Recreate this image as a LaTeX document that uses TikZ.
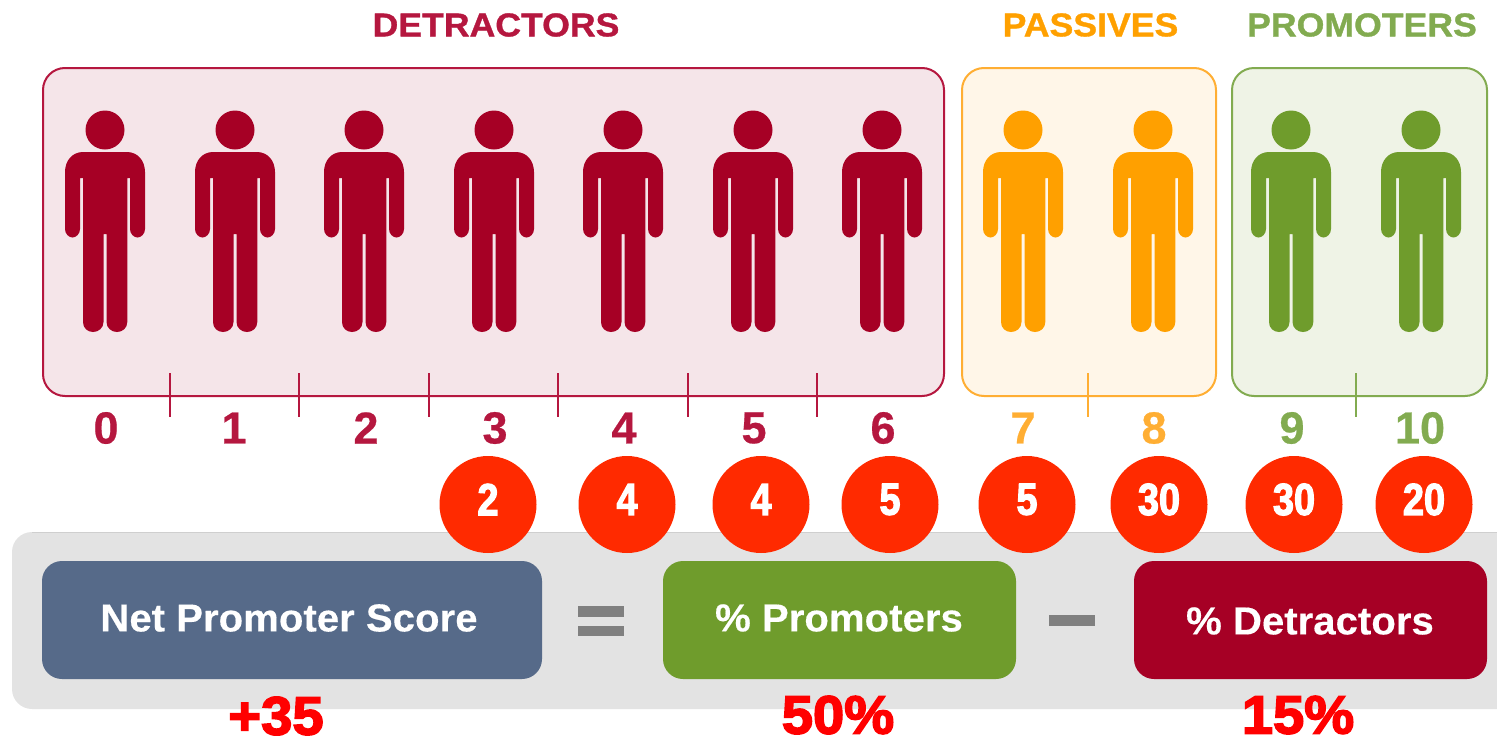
\documentclass[tikz,border=0pt]{standalone}
\usepackage{fontspec}
\setmainfont{Liberation Sans}
\newfontfamily\titlefont[FakeStretch=1.08,FakeBold=1]{Liberation Sans Bold}
\newfontfamily\boxfont[FakeStretch=1.03,FakeBold=0.3]{Liberation Sans Bold}
\newfontfamily\scalefont[FakeStretch=1.0,FakeBold=0.5]{Liberation Sans Bold}
\newfontfamily\badgefont[FakeStretch=0.84,FakeBold=2.5]{Liberation Sans Bold}
\newfontfamily\resultfont[FakeStretch=1.04,FakeBold=3]{Liberation Sans Bold}
\definecolor{detr}{HTML}{A60025}
\definecolor{detrline}{HTML}{B5173F}
\definecolor{detrfill}{HTML}{F5E5E9}
\definecolor{pass}{HTML}{FFA000}
\definecolor{passline}{HTML}{FFAE33}
\definecolor{passfill}{HTML}{FFF6E8}
\definecolor{prom}{HTML}{6F9C2C}
\definecolor{promline}{HTML}{82AB50}
\definecolor{promfill}{HTML}{EFF3E6}
\definecolor{nps}{HTML}{566A89}
\definecolor{band}{HTML}{E3E3E3}
\definecolor{bandedge}{HTML}{CFCFCF}
\definecolor{sign}{HTML}{808080}
\definecolor{badge}{HTML}{FF2A00}
\definecolor{result}{HTML}{FF0000}
\tikzset{
  x=1pt,y=-1pt,
  groupbox/.style={rectangle,rounded corners=22pt,line width=2pt,inner sep=0pt,minimum height=328pt},
  formulabox/.style={rectangle,rounded corners=20pt,inner sep=0pt,minimum height=118pt},
  title/.style={inner sep=0pt,font=\titlefont\fontsize{33}{33}\selectfont},
  scalenum/.style={inner sep=0pt,font=\scalefont\fontsize{45}{45}\selectfont},
  boxlabel/.style={inner sep=0pt,text=white,font=\boxfont\fontsize{39}{39}\selectfont},
  badgedisc/.style={circle,fill=badge,inner sep=0pt,minimum size=97pt},
  badgenum/.style={inner sep=0pt,text=white,font=\badgefont\fontsize{45}{45}\selectfont},
  resultnum/.style={inner sep=0pt,text=result,font=\resultfont\fontsize{54}{54}\selectfont},
  tick/.style={line width=1.6pt},
  person/.pic={
    \fill (0,130) circle[radius=19.5];
    \fill (-22,152) -- (22,152) .. controls (33,152) and (40,161) .. (40,172)
      -- (40,229) .. controls (40,234) and (36,237.5) .. (32.5,237.5)
      .. controls (29,237.5) and (25,234) .. (25,229)
      -- (25,178) -- (22.3,178) -- (22.3,322)
      .. controls (22.3,328) and (17.5,332) .. (12,332)
      .. controls (6.5,332) and (1.5,328) .. (1.5,322)
      -- (1.5,234) -- (-1.5,234) -- (-1.5,322)
      .. controls (-1.5,328) and (-6.5,332) .. (-12,332)
      .. controls (-17.5,332) and (-22,328) .. (-22,322)
      -- (-22,178) -- (-25,178) -- (-25,229)
      .. controls (-25,234) and (-29,237.5) .. (-32.5,237.5)
      .. controls (-36,237.5) and (-40,234) .. (-40,229)
      -- (-40,172) .. controls (-40,161) and (-33,152) .. (-22,152) -- cycle;
  }
}
\begin{document}
\begin{tikzpicture}
\useasboundingbox (0,0) rectangle (1497,739);
% titles
\node[title,text=detrline] (tdetr) at (496,25) {DETRACTORS};
\node[title,text=pass] (tpass) at (1090.5,25) {PASSIVES};
\node[title,text=promline] (tprom) at (1362,25) {PROMOTERS};
% group boxes
\node[groupbox,draw=detrline,fill=detrfill,minimum width=901pt] (gdetr) at (493.5,232) {};
\node[groupbox,draw=passline,fill=passfill,minimum width=254pt] (gpass) at (1089,232) {};
\node[groupbox,draw=promline,fill=promfill,minimum width=255pt] (gprom) at (1359.5,232) {};
\foreach \x in {170,299,429,558,688,817}
  \draw[tick,detrline] (\x,373) -- (\x,417);
\draw[tick,passline] (1088,373) -- (1088,417);
\draw[tick,promline] (1356,373) -- (1356,417);
% people
\foreach \x in {105,235,364,494,623,753,882}
  \pic[detr] at (\x,0) {person};
\foreach \x in {1023,1153}
  \pic[pass] at (\x,0) {person};
\foreach \x in {1291,1421}
  \pic[prom] at (\x,0) {person};
% scale
\foreach \n/\x in {0/106,1/234,2/366,3/495,4/624,5/754,6/883}
  \node[scalenum,text=detrline] (s\n) at (\x,428) {\n};
\foreach \n/\x in {7/1023,8/1154}
  \node[scalenum,text=passline] (s\n) at (\x,428) {\n};
\foreach \n/\x in {9/1292,10/1420}
  \node[scalenum,text=promline] (s\n) at (\x,428) {\n};
% band
\fill[band] (1497,532) [rounded corners=20pt] -- (12,532) -- (12,709) [sharp corners] -- (1497,709) -- cycle;
\draw[bandedge,line width=1.6pt] (32,532.5) -- (1497,532.5);
% formula
\node[formulabox,fill=nps,minimum width=500pt] (bnps) at (292,620) {};
\node[formulabox,fill=prom,minimum width=353pt] (bprom) at (839.5,620) {};
\node[formulabox,fill=detr,minimum width=353pt] (bdetr) at (1310.5,620) {};
\node[boxlabel] (lnps) at (289,618) {Net Promoter Score};
\node[boxlabel] (lprom) at (839,618) {\% Promoters};
\node[boxlabel] (ldetr) at (1310,621) {\% Detractors};
\fill[sign] (578,606) rectangle (624,617);
\fill[sign] (578,626) rectangle (624,636);
\fill[sign] (1049,615) rectangle (1095,626);
% badges
\foreach \v/\x [count=\i] in {2/488,4/627,4/761,5/890,5/1027,30/1159,30/1294,20/1424}{
  \node[badgedisc] (d\i) at (\x,504.5) {};
  \node[badgenum] (n\i) at (\x,499.5) {\v};
}
% results
\node[resultnum] (r1) at (276,716) {+35};
\node[resultnum] (r2) at (838,715) {50\%};
\node[resultnum] (r3) at (1298,715) {15\%};
\end{tikzpicture}
\end{document}
